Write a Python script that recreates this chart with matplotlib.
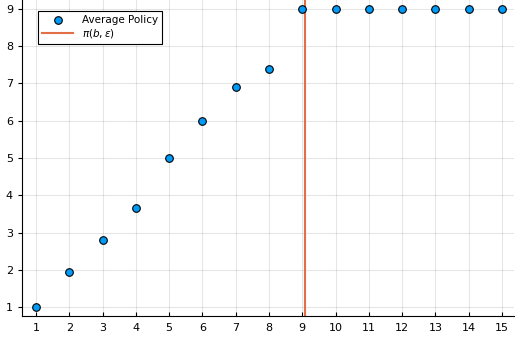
import matplotlib
matplotlib.use("Agg")
import matplotlib.pyplot as plt

x = list(range(1, 16))
avg_policy = [1.0, 1.94, 2.80, 3.66, 5.0, 5.99, 6.9, 7.39, 9, 9, 9, 9, 9, 9, 9]
threshold = 9.07
xticks = list(range(1, 16))
yticks = list(range(1, 10))

fig = plt.figure(figsize=(5.15, 3.38), dpi=100)
ax = fig.add_axes([22/515, 22/338, 492/515, 316/338])
ax.set_xlim(0.58, 15.36)
ax.set_ylim(0.76, 9.24)
ax.grid(True, color="black", alpha=0.1, linewidth=0.8)
ax.set_axisbelow(True)
ax.scatter(x, avg_policy, s=30, color="#009af9", edgecolor="black", linewidth=0.8, zorder=3, label="Average Policy")
ax.axvline(threshold, color="#e26f46", linewidth=1.5, zorder=2, label=r"$\pi(b,\varepsilon)$")
ax.set_xticks(xticks)
ax.set_yticks(yticks)
for s in ["top", "right"]:
    ax.spines[s].set_visible(False)
ax.tick_params(labelsize=8, length=3, width=0.8)
ax.tick_params(axis="x", direction="in", pad=5)
ax.tick_params(axis="y", direction="out")
leg = ax.legend(loc="upper left", bbox_to_anchor=(0.0325, 0.965), borderaxespad=0,
                fontsize=7.5, frameon=True,
                fancybox=False, edgecolor="black", framealpha=1, handlelength=3, borderpad=0.4,
                labelspacing=0.2)
leg.get_frame().set_linewidth(0.8)
fig.savefig("out.png", dpi=100)
